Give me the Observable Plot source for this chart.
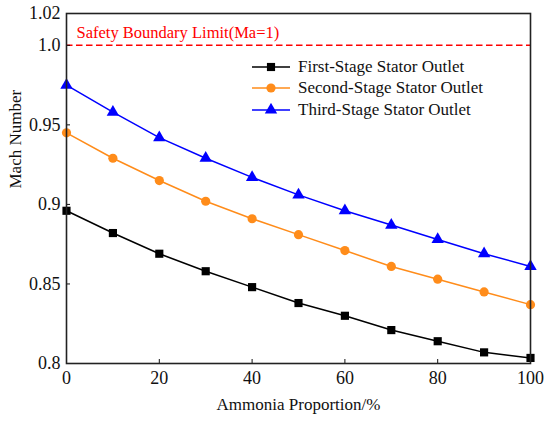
<!DOCTYPE html>
<html><head><meta charset="utf-8">
<script src="https://cdn.jsdelivr.net/npm/d3@7"></script>
<script src="https://cdn.jsdelivr.net/npm/@observablehq/plot@0.6"></script>
</head>
<body style="margin:0;background:#fff;font-family:'Liberation Serif',serif">
<div id="wrap" style="position:relative;width:550px;height:423px;font-family:'Liberation Serif',serif"></div>
<script>
const proportion = [0,10,20,30,40,50,60,70,80,90,100];
const firstStage  = [0.896,0.882,0.869,0.858,0.848,0.838,0.830,0.821,0.814,0.807,0.8035];
const secondStage = [0.945,0.929,0.915,0.902,0.891,0.881,0.871,0.861,0.853,0.845,0.837];
const thirdStage  = [0.975,0.958,0.942,0.929,0.917,0.906,0.896,0.887,0.878,0.869,0.861];
const seriesNames = ["First-Stage Stator Outlet","Second-Stage Stator Outlet","Third-Stage Stator Outlet"];
const seriesColors = ["#000000","#ff8c1a","#0000ff"];
const seriesSymbols = ["square","circle","triangle"];
const xTicks = [0,20,40,60,80,100];
const yTicks = [0.8,0.85,0.9,0.95,1.0,1.02];
const yTickLabels = ["0.8","0.85","0.9","0.95","1.0","1.02"];
const limitValue = [1.0];
const limitLabel = "Safety Boundary Limit(Ma=1)";

const allSeries = [firstStage, secondStage, thirdStage];
const rows = allSeries.flatMap((vals, i) => vals.map((v, j) => ({x: proportion[j], y: v, s: seriesNames[i]})));
const serif = "Liberation Serif";

const chart = Plot.plot({
  width: 550, height: 423,
  marginLeft: 66, marginRight: 20, marginTop: 13, marginBottom: 60,
  style: "font-family:'Liberation Serif',serif;font-size:17px;color:#111;background:#fff",
  x: {domain: [0,100], ticks: xTicks, label: null},
  y: {domain: [0.8,1.02], ticks: yTicks, label: null},
  color: {domain: seriesNames, range: seriesColors},
  symbol: {domain: seriesNames, range: seriesSymbols},
  marks: [
    Plot.ruleY(limitValue, {stroke: "#ff0000", strokeWidth: 1.6, strokeDasharray: "6.5,3.5"}),
    Plot.text([limitLabel], {x: 0, y: limitValue[0], dx: 10, dy: -13, textAnchor: "start", fill: "#ff0000", fontSize: 16.5, fontFamily: serif}),
    Plot.line(rows, {x: "x", y: "y", stroke: "s", strokeWidth: 1.5}),
    Plot.dot(rows, {x: "x", y: "y", fill: "s", symbol: "s", r: 4.6, stroke: "none"}),
    Plot.axisX({ticks: xTicks, tickSize: 4, dy: -4, text: null, stroke: "#111", label: null}),
    Plot.axisX({ticks: xTicks, tickSize: 0, tickPadding: 8, fontSize: 18, fontFamily: serif, label: null}),
    Plot.axisY({ticks: yTicks, tickSize: 4, dx: 4, text: null, stroke: "#111", label: null}),
    Plot.axisY({ticks: yTicks, tickSize: 0, tickPadding: 6, fontSize: 18, fontFamily: serif, label: null,
      tickFormat: d => yTickLabels[yTicks.indexOf(d)]}),
    Plot.text(["Ammonia Proportion/%"], {frameAnchor: "bottom", dy: 46, fontSize: 17, fill: "#111", fontFamily: serif}),
    Plot.text(["Mach Number"], {frameAnchor: "left", dx: -51, rotate: -90, fontSize: 17, fill: "#111", fontFamily: serif}),
    Plot.frame({stroke: "#222", strokeWidth: 1.6})
  ]
});
const wrap = document.getElementById("wrap");
wrap.appendChild(chart);

const legend = document.createElement("div");
legend.setAttribute("style", "position:absolute;left:252px;top:56px;font-size:17px;color:#111;font-family:'Liberation Serif',serif");
seriesNames.forEach((name, i) => {
  const row = document.createElement("div");
  row.setAttribute("style", "display:flex;align-items:center;height:21.5px");
  const sv = d3.create("svg").attr("width", 38).attr("height", 14).attr("style", "margin-right:8px");
  sv.append("line").attr("x1", 0).attr("x2", 38).attr("y1", 7).attr("y2", 7).attr("stroke", seriesColors[i]).attr("stroke-width", 1.5);
  const symType = {square: d3.symbolSquare, circle: d3.symbolCircle, triangle: d3.symbolTriangle}[seriesSymbols[i]];
  sv.append("path").attr("d", d3.symbol(symType, 4.6*4.6*Math.PI)()).attr("transform", "translate(19,7)").attr("fill", seriesColors[i]);
  row.appendChild(sv.node());
  const t = document.createElement("span");
  t.textContent = name;
  row.appendChild(t);
  legend.appendChild(row);
});
wrap.appendChild(legend);
</script></body></html>
